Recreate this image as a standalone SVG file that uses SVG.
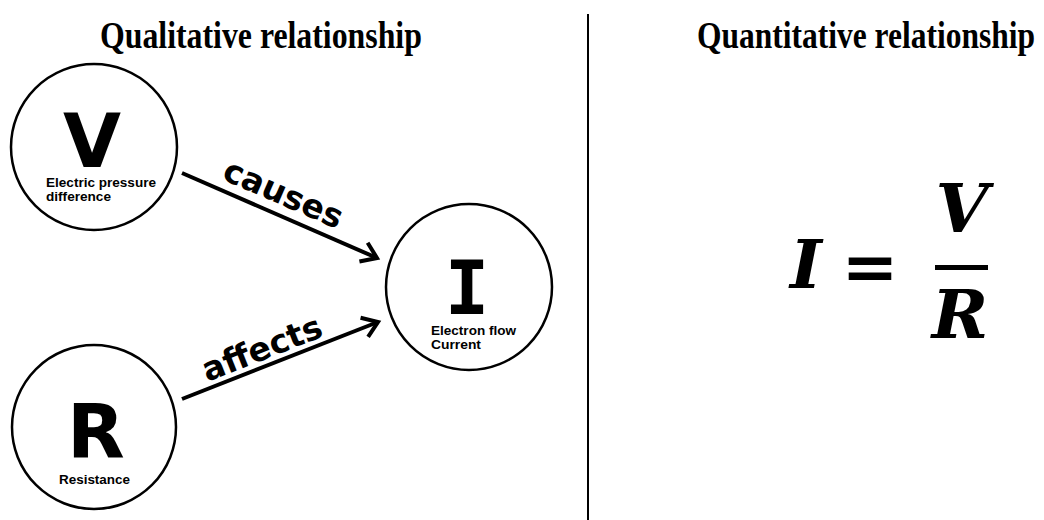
<svg xmlns="http://www.w3.org/2000/svg" width="1044" height="520" viewBox="0 0 1044 520">
<style>
.title{font-family:"Liberation Serif","Times New Roman",serif;font-weight:bold;font-size:31.5px;fill:#000}
.node{fill:#fff;stroke:#000;stroke-width:2.5}
.big{font-family:"DejaVu Sans",Verdana,sans-serif;font-weight:bold;font-size:75px;fill:#000;text-anchor:middle}
.bigI{font-family:"DejaVu Sans Mono",monospace;font-weight:bold;font-size:74px;fill:#000;text-anchor:middle}
.small{font-family:"Liberation Sans",Arial,sans-serif;font-weight:bold;font-size:12.5px;fill:#000}
.edge{stroke:#000;stroke-width:4;fill:none}
.elabel{font-family:"DejaVu Sans",Verdana,sans-serif;font-weight:bold;font-size:33px;fill:#000;text-anchor:middle}
.eq{font-family:"DejaVu Serif","Cambria Math",serif;font-weight:bold;font-style:italic;font-size:68px;fill:#000;text-anchor:middle}
</style>
<defs>
<marker id="arr" markerUnits="userSpaceOnUse" viewBox="-20 -15 25 30" refX="0" refY="0" markerWidth="25" markerHeight="30" orient="auto" overflow="visible">
<path d="M-14.7,-10.3 L0,0 L-14.7,10.3" fill="none" stroke="#000" stroke-width="4" stroke-linejoin="miter"/>
</marker>
</defs>
<rect width="1044" height="520" fill="#fff"/>
<text class="title" transform="translate(100,48) scale(1.01,1.2)">Qualitative relationship</text>
<text class="title" transform="translate(697,48) scale(1,1.2)">Quantitative relationship</text>
<line x1="588" y1="14" x2="588" y2="520" stroke="#000" stroke-width="2"/>
<g id="connectors">
<line class="edge" x1="182" y1="173" x2="377" y2="258" marker-end="url(#arr)"/>
<line class="edge" x1="182" y1="399" x2="378" y2="322" marker-end="url(#arr)"/>
<text class="elabel" transform="translate(279,204) rotate(23.5)">causes</text>
<text class="elabel" transform="translate(266,359) rotate(-21.4)">affects</text>
</g>
<g id="node-V">
<circle class="node" cx="94" cy="147" r="83"/>
<text class="big" x="92" y="167">V</text>
<text class="small" x="46" y="187" textLength="110" lengthAdjust="spacingAndGlyphs">Electric pressure</text>
<text class="small" x="46" y="201" textLength="65" lengthAdjust="spacingAndGlyphs">difference</text>
</g>
<g id="node-R">
<circle class="node" cx="94" cy="427" r="82"/>
<text class="big" x="96" y="458">R</text>
<text class="small" x="59" y="484" textLength="71" lengthAdjust="spacingAndGlyphs">Resistance</text>
</g>
<g id="node-I">
<circle class="node" cx="469" cy="287" r="83"/>
<text class="bigI" x="467" y="314">I</text>
<text class="small" x="431" y="335" textLength="85" lengthAdjust="spacingAndGlyphs">Electron flow</text>
<text class="small" x="431" y="349" textLength="50" lengthAdjust="spacingAndGlyphs">Current</text>
</g>
<g id="equation">
<text class="eq" x="806" y="288">I</text>
<text class="eq" x="870" y="290" style="font-style:normal">=</text>
<text class="eq" x="962" y="232">V</text>
<rect x="935" y="265" width="53" height="5" fill="#000"/>
<text class="eq" x="960" y="338">R</text>
</g>
</svg>
